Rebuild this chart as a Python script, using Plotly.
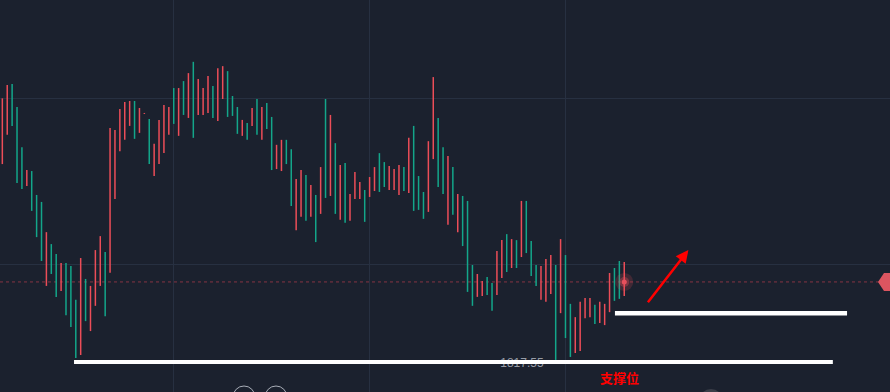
import plotly.graph_objects as go

# ---- data (price readings per bar) ----
high = [1824.99, 1825.39, 1825.42, 1824.73, 1823.52, 1822.83, 1822.80, 1822.08, 1821.87, 1820.96,
        1820.60, 1820.30, 1820.03, 1820.03, 1819.94, 1818.92, 1820.18, 1819.55, 1819.34, 1820.42,
        1820.84, 1820.36, 1824.10, 1824.04, 1824.67, 1824.88, 1824.91, 1824.91, 1824.70, 1824.55,
        1824.37, 1823.62, 1824.34, 1824.79, 1824.73, 1825.30, 1825.30, 1825.51, 1825.75, 1826.09,
        1825.57, 1825.30, 1825.66, 1825.36, 1825.90, 1825.96, 1825.81, 1825.06, 1824.73, 1824.34,
        1824.25, 1824.70, 1824.97, 1824.73, 1824.85, 1824.43, 1823.59, 1823.74, 1823.74, 1823.46,
        1822.56, 1822.83, 1822.68, 1822.38, 1822.08, 1822.92, 1824.97, 1824.49, 1823.64, 1822.98,
        1823.04, 1822.11, 1822.77, 1822.47, 1822.23, 1822.62, 1822.92, 1823.34, 1823.07, 1822.95,
        1822.86, 1822.98, 1822.92, 1823.80, 1824.16, 1822.65, 1822.17, 1823.70, 1825.63, 1824.40,
        1823.52, 1823.25, 1822.92, 1822.11, 1822.05, 1821.90, 1819.97, 1819.70, 1819.49, 1819.61,
        1819.43, 1820.39, 1820.72, 1820.90, 1820.75, 1820.72, 1821.90, 1821.90, 1820.69, 1819.97,
        1819.94, 1820.15, 1820.27, 1819.97, 1820.75, 1820.27, 1818.80, 1818.40, 1818.86, 1818.98,
        1818.98, 1818.77, 1818.86, 1818.80, 1819.73, 1819.88, 1820.09, 1820.06]
low = [1823.01, 1823.89, 1824.16, 1822.44, 1822.26, 1822.35, 1821.60, 1820.81, 1820.09, 1819.34,
       1819.70, 1819.01, 1819.19, 1818.46, 1818.10, 1817.17, 1817.26, 1818.28, 1817.98, 1818.74,
       1819.34, 1818.43, 1819.74, 1821.96, 1823.40, 1823.74, 1824.16, 1823.77, 1823.95, 1824.52,
       1823.01, 1822.65, 1823.01, 1823.34, 1823.89, 1824.22, 1823.86, 1824.49, 1824.40, 1823.80,
       1824.49, 1824.49, 1824.55, 1824.40, 1824.31, 1824.97, 1824.43, 1824.46, 1823.92, 1823.86,
       1823.74, 1824.16, 1823.89, 1823.74, 1824.07, 1822.83, 1822.86, 1822.80, 1823.01, 1821.75,
       1821.02, 1821.42, 1821.30, 1821.42, 1820.66, 1821.51, 1821.99, 1822.05, 1821.51, 1821.33,
       1821.24, 1821.30, 1821.96, 1821.96, 1821.27, 1822.02, 1822.20, 1822.17, 1822.32, 1822.23,
       1822.23, 1822.08, 1822.20, 1822.14, 1821.60, 1821.63, 1821.36, 1821.57, 1823.16, 1822.32,
       1822.11, 1821.18, 1821.48, 1820.96, 1820.54, 1819.16, 1818.74, 1819.01, 1819.04, 1819.07,
       1818.59, 1819.07, 1819.58, 1819.76, 1819.88, 1819.88, 1820.21, 1820.33, 1819.64, 1819.34,
       1818.92, 1818.86, 1819.10, 1817.11, 1818.52, 1817.77, 1817.20, 1817.32, 1817.38, 1818.37,
       1818.40, 1818.19, 1818.22, 1818.16, 1818.55, 1818.89, 1818.95, 1819.04]
# 1 = rising (green), 0 = falling (red)
up = [0, 0, 1, 1, 1, 0, 1, 1, 1, 0, 1, 1, 0, 1, 1, 1, 0, 1, 0, 0,
      0, 1, 0, 0, 0, 0, 0, 1, 0, 0, 1, 0, 0, 0, 0, 1, 0, 1, 0, 1,
      0, 0, 0, 1, 0, 0, 1, 1, 1, 0, 1, 0, 1, 0, 1, 1, 0, 0, 1, 1,
      0, 0, 1, 0, 1, 0, 1, 0, 1, 0, 1, 0, 0, 0, 1, 0, 0, 1, 1, 0,
      0, 0, 1, 0, 1, 1, 1, 0, 0, 1, 1, 0, 1, 0, 1, 1, 1, 0, 0, 1,
      1, 0, 0, 1, 0, 1, 0, 1, 1, 1, 0, 0, 0, 1, 0, 1, 1, 0, 0, 0,
      0, 1, 0, 0, 0, 1, 1, 0]

last_price = 1819.46
support_low = 1817.05
support_high = 1818.52
low_label = "1817.55"
support_text = "支撑位"

BG = "#1b212e"
GRID = "#273041"
RED = "#ec4d58"
GREEN = "#13a68a"

fig = go.Figure()

for flag, col in ((1, GREEN), (0, RED)):
    xs, ys = [], []
    for i, (h, l, u) in enumerate(zip(high, low, up)):
        if u == flag:
            xs += [i, i, None]
            ys += [l, h, None]
    fig.add_trace(go.Scatter(x=xs, y=ys, mode="lines", line=dict(color=col, width=1.5),
                             hoverinfo="skip", showlegend=False))

# low price label (partly hidden under the white line)
fig.add_trace(go.Scatter(x=[106.1], y=[1816.99], mode="text", text=[low_label],
                         textfont=dict(color="#979ca6", size=12, family="Liberation Sans"),
                         hoverinfo="skip", showlegend=False))

# glowing last price dot
n = len(high)
fig.add_trace(go.Scatter(x=[n - 1], y=[last_price], mode="markers",
                         marker=dict(size=18, color="rgba(236,77,88,0.18)"),
                         hoverinfo="skip", showlegend=False))
fig.add_trace(go.Scatter(x=[n - 1], y=[last_price], mode="markers",
                         marker=dict(size=10, color="rgba(236,77,88,0.35)"),
                         hoverinfo="skip", showlegend=False))
fig.add_trace(go.Scatter(x=[n - 1], y=[last_price], mode="markers",
                         marker=dict(size=5, color="#e8505c"),
                         hoverinfo="skip", showlegend=False))

shapes = []
# last price dashed line
shapes.append(dict(type="line", xref="paper", yref="y", x0=0, x1=1, y0=last_price, y1=last_price,
                   line=dict(color="rgba(150,55,70,0.85)", width=1, dash="3px,3px"), layer="below"))
# support lines (drawn)
shapes.append(dict(type="line", xref="x", yref="y", x0=14.64, x1=169.6, y0=support_low, y1=support_low,
                   line=dict(color="#ffffff", width=4), layer="above"))
shapes.append(dict(type="line", xref="x", yref="y", x0=125.1, x1=172.5, y0=support_high, y1=support_high,
                   line=dict(color="#ffffff", width=4.5), layer="above"))
# price marker at right edge
W, H = 890.0, 392.0
pts = [(878, 282), (884, 273), (891, 273), (891, 291), (884, 291)]
path = "M " + " L ".join(f"{px / W:.5f},{1 - py / H:.5f}" for px, py in pts) + " Z"
shapes.append(dict(type="path", xref="paper", yref="paper", path=path,
                   fillcolor="#dc5560", line=dict(width=0), layer="above"))
# bottom toolbar circles (partially visible)
for cx in (244, 276):
    shapes.append(dict(type="circle", xref="paper", yref="paper",
                       x0=(cx - 11) / W, x1=(cx + 11) / W, y0=1 - 408 / H, y1=1 - 386 / H,
                       line=dict(color="#a9aeb8", width=1), fillcolor="rgba(0,0,0,0)", layer="above"))
shapes.append(dict(type="circle", xref="paper", yref="paper",
                   x0=699 / W, x1=723 / W, y0=1 - 413 / H, y1=1 - 389 / H,
                   line=dict(width=0), fillcolor="#3a3e48", layer="above"))

annotations = [
    dict(x=140.1, y=1820.42, ax=131.6, ay=1818.80, xref="x", yref="y", axref="x", ayref="y",
         text="", showarrow=True, arrowhead=2, arrowsize=1, arrowwidth=2.5, arrowcolor="#ff0000",
         standoff=0, startstandoff=0),
    dict(x=126.1, y=1816.57, xref="x", yref="y", text="<b>" + support_text + "</b>", showarrow=False,
         font=dict(color="#ff0000", size=13, family="Noto Sans CJK SC")),
]

fig.update_layout(
    width=890, height=392, margin=dict(l=0, r=0, t=0, b=0),
    paper_bgcolor=BG, plot_bgcolor=BG,
    shapes=shapes, annotations=annotations, hovermode=False,
    xaxis=dict(range=[-0.476, 181.27], showticklabels=False, zeroline=False, showline=False,
               tickmode="array", tickvals=[35, 75, 115], showgrid=True, gridcolor=GRID, gridwidth=1),
    yaxis=dict(range=[1816.145, 1827.952], showticklabels=False, zeroline=False, showline=False,
               tick0=1820, dtick=5, showgrid=True, gridcolor=GRID, gridwidth=1),
)

fig.write_html(
    "out.html",
    config={"displayModeBar": False},
    post_script="document.body.style.margin='0';document.body.style.overflow='hidden';"
                "document.body.style.background='" + BG + "';",
)
